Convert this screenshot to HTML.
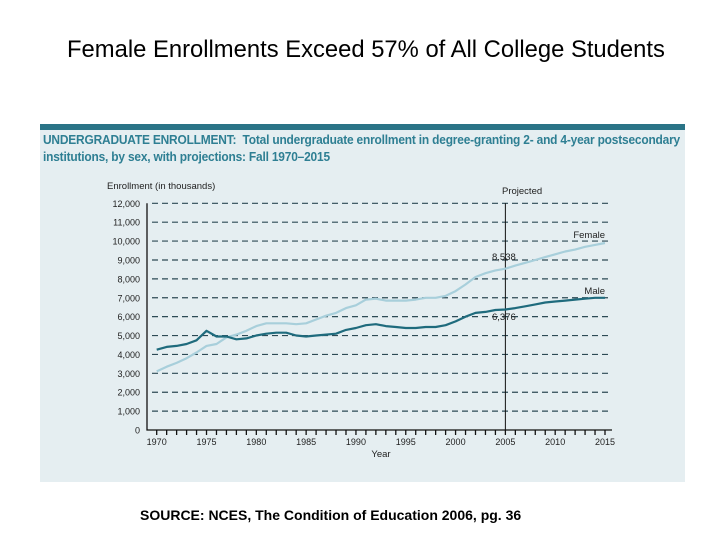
<!DOCTYPE html>
<html><head><meta charset="utf-8"><style>
body{margin:0;width:720px;height:540px;background:#fff;overflow:hidden;font-family:"Liberation Sans",sans-serif;position:relative}
#title{position:absolute;left:67px;top:36px;font-size:23.8px;color:#000;white-space:nowrap}
#panel{position:absolute;left:40px;top:124px;width:645px;height:358px;background:#e5eef1;border-top:6px solid #2a7487;box-sizing:border-box}
.ph{position:absolute;left:3px;font-family:"Liberation Sans Narrow","Liberation Sans",sans-serif;font-weight:bold;color:#2e7f93;font-size:12.5px;white-space:nowrap;transform-origin:left;letter-spacing:-0.2px}
#src{position:absolute;left:140px;top:507px;font-size:14px;font-weight:bold;white-space:nowrap}
svg{position:absolute;left:0;top:0}
</style></head><body>
<div id="title">Female Enrollments Exceed 57% of All College Students</div>
<div id="panel">
<div class="ph" style="top:3px;transform:scaleX(0.955)">UNDERGRADUATE ENROLLMENT:&nbsp; Total undergraduate enrollment in degree-granting 2- and 4-year postsecondary</div>
<div class="ph" style="top:20px;transform:scaleX(0.955)">institutions, by sex, with projections: Fall 1970–2015</div>
</div>
<div id="src">SOURCE: NCES, The Condition of Education 2006, pg. 36</div>
<svg id="chart" width="720" height="540"></svg>
<script>
const years=[];for(let y=1970;y<=2015;y++)years.push(y);
const female=[3100,3350,3550,3800,4100,4450,4550,4900,5050,5250,5500,5650,5650,5650,5600,5650,5850,6050,6200,6450,6600,6900,6950,6850,6850,6850,6900,7000,7000,7100,7350,7700,8100,8300,8450,8538,8700,8850,9000,9150,9300,9450,9550,9700,9800,9900];
const male=[4250,4400,4450,4550,4750,5250,4950,4950,4800,4850,5000,5100,5150,5150,5000,4950,5000,5050,5100,5300,5400,5550,5600,5500,5450,5400,5400,5450,5450,5550,5750,6000,6200,6250,6350,6376,6450,6550,6650,6750,6800,6850,6900,6950,7000,7000];
const yTicks=[0,1000,2000,3000,4000,5000,6000,7000,8000,9000,10000,11000,12000];
const xLabels=[1970,1975,1980,1985,1990,1995,2000,2005,2010,2015];
const NS='http://www.w3.org/2000/svg',svg=document.getElementById('chart');
const X=v=>156.7+(v-1970)*(605-156.7)/45, Y=v=>430-v*(226.7/12000);
function el(t,a,txt){const e=document.createElementNS(NS,t);for(const k in a)e.setAttribute(k,a[k]);if(txt!==undefined)e.textContent=txt;svg.appendChild(e);return e;}
const f='font-family:"Liberation Sans Narrow","Liberation Sans",sans-serif';
yTicks.forEach(v=>{
 if(v>0){const g=el('line',{x1:152,x2:612,y1:Y(v),y2:Y(v),stroke:'#2d4a55','stroke-width':1.2,'stroke-dasharray':'6,4'});
 
 }
 const t=el('text',{x:140,y:Y(v)+3.5,'text-anchor':'end','font-size':9,style:f,fill:'#222'},v.toLocaleString('en-US'));
 
 
});
const ax=el('path',{d:`M147,${Y(12000)}V430H612`,stroke:'#111','stroke-width':1.3,fill:'none'});


years.forEach(y=>{const t=el('line',{x1:X(y),x2:X(y),y1:430,y2:435,stroke:'#111','stroke-width':1.3});
 
 });
xLabels.forEach(y=>{const t=el('text',{x:X(y),y:445,'text-anchor':'middle','font-size':9,style:f,fill:'#222'},y);
 
 });
const pl=el('line',{x1:X(2005),x2:X(2005),y1:Y(12000),y2:430,stroke:'#111','stroke-width':1});


function series(d,c,n){const p=el('path',{d:d.map((v,i)=>(i?'L':'M')+X(years[i]).toFixed(1)+','+Y(v).toFixed(1)).join(''),stroke:c,'stroke-width':2.2,fill:'none','stroke-linejoin':'round'});
 
 }
series(female,'#a8cfdb','female-line');
series(male,'#1f6b7d','male-line');
const labs=[[107,189,'start','Enrollment (in thousands)','y-axis-title'],[502,194,'start','Projected','projected-label'],[605,238,'end','Female','female-label'],[605,294,'end','Male','male-label'],[492,260,'start','8,538','female-2005-value'],[492,320,'start','6,376','male-2005-value'],[381,457,'middle','Year','x-axis-title']];
labs.forEach(l=>{const t=el('text',{x:l[0],y:l[1],'text-anchor':l[2],'font-size':9.5,style:f,fill:'#222'},l[3]);
 
 });
</script>
</body></html>
